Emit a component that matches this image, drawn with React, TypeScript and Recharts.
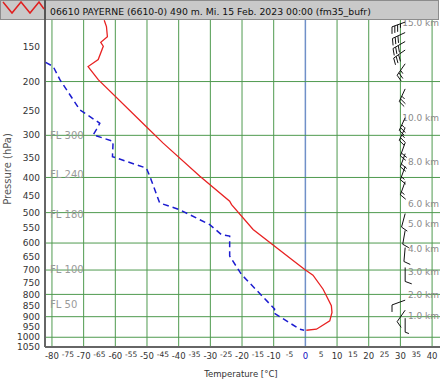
import React from "react";
import { ScatterChart, Scatter, XAxis, YAxis, ReferenceLine } from "recharts";

// pressure axis is linear in p^kappa
const KAPPA = 0.286;
const tp = (p: number) => Math.pow(p, KAPPA);
const fromTp = (v: number) => Math.pow(v, 1 / KAPPA);

// temperature profile
const tempP = [118, 125, 137, 144, 149, 167, 177, 197, 282, 317, 397, 466, 476, 554, 659, 698, 720, 778, 850, 880, 920, 960, 965];
const tempT = [-63.5, -62.8, -62.5, -64.6, -63.8, -65.4, -68.6, -65.4, -50.2, -44.9, -33.3, -23.9, -23.3, -16.5, -4.4, -0.2, 2.4, 5.6, 8.2, 8.4, 7.7, 3.5, 0.3];

// dew point profile
const dewP = [171, 177, 197, 249, 275, 288, 299, 313, 348, 376, 397, 471, 491, 538, 571, 576, 647, 717, 865, 880, 960, 965];
const dewT = [-82, -79.6, -77.5, -71.2, -64.9, -66, -67, -60.7, -60.9, -50.2, -49.1, -46, -39.7, -30.2, -26.5, -23.9, -23.9, -20.2, -9.7, -10.2, -1.8, -0.4];

// wind barbs
const windP = [120, 132, 143, 154, 173, 212, 264, 284, 316, 341, 372, 411, 503, 557, 616, 690, 825, 870, 907];
const windDir = [250, 245, 240, 235, 215, 205, 205, 205, 200, 200, 200, 200, 195, 190, 185, 180, 250, 215, 180];
const windKt = [35, 30, 30, 30, 25, 25, 25, 25, 20, 20, 15, 15, 10, 10, 10, 10, 10, 10, 5];

const kmLabels = ["15.0 km", "10.0 km", "8.0 km", "6.0 km", "5.0 km", "4.0 km", "3.0 km", "2.0 km", "1.0 km"];
const kmP = [121, 264, 361, 474, 537, 619, 707, 802, 897];

const flLabels = ["FL 300", "FL 240", "FL 180", "FL 100", "FL 50"];
const flP = [301, 393, 506, 697, 843];

const pressureTicks = [150, 200, 250, 300, 350, 400, 450, 500, 550, 600, 650, 700, 750, 800, 850, 900, 950, 1000, 1050];
const pressureGrid = [200, 300, 400, 500, 600, 700, 800, 900, 1000];
const tempTicks = [-80, -75, -70, -65, -60, -55, -50, -45, -40, -35, -30, -25, -20, -15, -10, -5, 0, 5, 10, 15, 20, 25, 30, 35, 40];
const tempGrid = [-80, -70, -60, -50, -40, -30, -20, -10, 10, 20, 30, 40];

const TITLE = "06610 PAYERNE (6610-0) 490 m. Mi. 15 Feb. 2023 00:00 (fm35_bufr)";
const FONT = "'DejaVu Sans', Verdana, sans-serif";

const tempData = tempP.map((p, i) => ({ x: tempT[i], y: tp(p) }));
const dewData = dewP.map((p, i) => ({ x: dewT[i], y: tp(p) }));
const windData = windP.map((p, i) => ({ x: 31.5, y: tp(p), dir: windDir[i], kt: windKt[i] }));
const kmData = kmP.map((p, i) => ({ x: 42.2, y: tp(p), label: kmLabels[i] }));
const flData = flP.map((p, i) => ({ x: -80.6, y: tp(p), label: flLabels[i] }));

const NoDot = () => <g />;

function Barb(props: any) {
  const { cx, cy, payload } = props;
  const a = (payload.dir * Math.PI) / 180;
  const ux = Math.sin(a);
  const uy = -Math.cos(a);
  const ex = cx + ux * 14;
  const ey = cy + uy * 14;
  const fx = uy * 0.94 + ux * 0.34;
  const fy = -ux * 0.94 + uy * 0.34;
  const lines: React.ReactNode[] = [];
  let kt = payload.kt;
  let k = 0;
  while (kt >= 10) {
    const px = ex - ux * k * 3;
    const py = ey - uy * k * 3;
    lines.push(<line key={k} x1={px} y1={py} x2={px + fx * 7} y2={py + fy * 7} />);
    kt -= 10;
    k++;
  }
  if (kt >= 5) {
    const px = ex - ux * k * 3;
    const py = ey - uy * k * 3;
    lines.push(<line key="h" x1={px} y1={py} x2={px + fx * 4} y2={py + fy * 4} />);
  }
  return (
    <g stroke="#111" strokeWidth={1} fill="none">
      <line x1={cx} y1={cy} x2={ex} y2={ey} />
      {lines}
    </g>
  );
}

const KmLabel = (props: any) => (
  <text x={props.cx} y={props.cy} dy="0.35em" textAnchor="end" fontSize={9} fill="#8a8a8a" fontFamily={FONT}>
    {props.payload.label}
  </text>
);

const FlLabel = (props: any) => (
  <text x={props.cx} y={props.cy} dy="0.35em" fontSize={10} fill="#9a9a9a" fontFamily={FONT}>
    {props.payload.label}
  </text>
);

const XTick = (props: any) => {
  const { x, payload } = props;
  const v = payload.value;
  const odd = v % 10 !== 0;
  return (
    <text x={x} y={odd ? 357 : 359} textAnchor="middle" fontSize={odd ? 7.5 : 8.5} fill={v === 0 ? "#1010c0" : "#333"} fontFamily={FONT}>
      {v}
    </text>
  );
};

const YTick = (props: any) => {
  const { x, y, payload } = props;
  return (
    <text x={x} y={y} dy="0.35em" textAnchor="end" fontSize={9} fill="#333" fontFamily={FONT}>
      {Math.round(fromTp(payload.value) / 50) * 50}
    </text>
  );
};

export default function App() {
  return (
    <div style={{ position: "absolute", left: 0, top: 0, width: 440, height: 382, background: "#fff", overflow: "hidden" }}>
      <ScatterChart width={440} height={382} margin={{ top: 20, right: 0, bottom: 0, left: 0 }}>
        <XAxis
          type="number"
          dataKey="x"
          domain={[-82.2, 42.5]}
          ticks={tempTicks}
          interval={0}
          tick={<XTick />}
          tickLine={false}
          axisLine={{ stroke: "#666", strokeWidth: 2 }}
          height={35}
          allowDataOverflow
          label={{
            content: () => (
              <text x={241} y={377} textAnchor="middle" fontSize={8.5} fill="#333" fontFamily={FONT}>
                Temperature [°C]
              </text>
            ),
          }}
        />
        <YAxis
          type="number"
          dataKey="y"
          reversed
          domain={[tp(117.7), tp(1050)]}
          ticks={pressureTicks.map(tp)}
          interval={0}
          tick={<YTick />}
          tickLine={false}
          tickSize={3}
          tickMargin={2}
          axisLine={{ stroke: "#666", strokeWidth: 2 }}
          width={45}
          allowDataOverflow
          label={{
            content: () => (
              <text transform="translate(11,169) rotate(-90)" textAnchor="middle" fontSize={10} fill="#555" fontFamily={FONT}>
                Pressure (hPa)
              </text>
            ),
          }}
        />
        {tempGrid.map((t) => (
          <ReferenceLine key={"v" + t} x={t} stroke="#4f9a4f" strokeWidth={1} />
        ))}
        <ReferenceLine x={0} stroke="#7090c8" strokeWidth={1.5} />
        {pressureGrid.map((p) => (
          <ReferenceLine key={"h" + p} y={tp(p)} stroke="#4f9a4f" strokeWidth={1} />
        ))}
        <Scatter data={flData} shape={FlLabel} isAnimationActive={false} />
        <Scatter data={kmData} shape={KmLabel} isAnimationActive={false} />
        <Scatter data={windData} shape={Barb} isAnimationActive={false} />
        <Scatter
          data={dewData}
          line={{ stroke: "#1c1cd0", strokeWidth: 1.5, strokeDasharray: "6 4" }}
          lineType="joint"
          shape={NoDot}
          isAnimationActive={false}
        />
        <Scatter
          data={tempData}
          line={{ stroke: "#e82222", strokeWidth: 1.3 }}
          lineType="joint"
          shape={NoDot}
          isAnimationActive={false}
        />
      </ScatterChart>
      <svg width={440} height={21} style={{ position: "absolute", left: 0, top: 0 }}>
        <rect x={0.5} y={0.5} width={438} height={19} fill="#c9c9c9" stroke="#8c8c8c" />
        <line x1={45} y1={0} x2={45} y2={20} stroke="#555" strokeWidth={2} />
        <polyline points="3,2 12,13 21,2 30,13 39,2 44,9" fill="none" stroke="#e02020" strokeWidth={1.5} />
        <text x={50} y={14.5} fontSize={9.3} fill="#111" fontFamily={FONT}>
          {TITLE}
        </text>
      </svg>
    </div>
  );
}
